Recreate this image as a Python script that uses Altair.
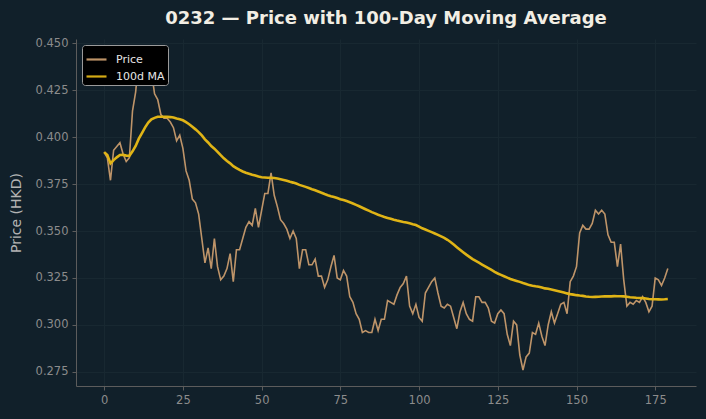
import altair as alt
import pandas as pd

# Daily closing prices for 0232 (HKD), day index 0..179
days = list(range(180))
price = [
    0.392, 0.389, 0.377, 0.393, 0.395, 0.397, 0.391, 0.387, 0.389, 0.414,
    0.424, 0.442, 0.438, 0.444, 0.444, 0.435, 0.423, 0.420, 0.412, 0.410,
    0.410, 0.408, 0.405, 0.398, 0.401, 0.394, 0.382, 0.377, 0.367, 0.365,
    0.359, 0.346, 0.333, 0.341, 0.330, 0.346, 0.331, 0.324, 0.326, 0.330,
    0.338, 0.323, 0.340, 0.340, 0.346, 0.352, 0.355, 0.353, 0.362, 0.352,
    0.361, 0.370, 0.370, 0.381, 0.369, 0.363, 0.356, 0.354, 0.351, 0.346,
    0.350, 0.346, 0.330, 0.340, 0.340, 0.332, 0.332, 0.335, 0.326, 0.326,
    0.320, 0.324, 0.331, 0.337, 0.325, 0.324, 0.329, 0.326, 0.315, 0.312,
    0.306, 0.303, 0.296, 0.297, 0.296, 0.296, 0.303, 0.297, 0.303, 0.303,
    0.313, 0.312, 0.311, 0.316, 0.320, 0.322, 0.326, 0.310, 0.306, 0.311,
    0.304, 0.302, 0.317, 0.320, 0.323, 0.325, 0.317, 0.310, 0.309, 0.311,
    0.310, 0.304, 0.298, 0.307, 0.312, 0.306, 0.303, 0.302, 0.315, 0.315,
    0.312, 0.312, 0.309, 0.302, 0.301, 0.306, 0.308, 0.306, 0.295, 0.289,
    0.302, 0.300, 0.284, 0.276, 0.283, 0.285, 0.296, 0.295, 0.301, 0.294,
    0.289, 0.300, 0.307, 0.301, 0.306, 0.311, 0.312, 0.306, 0.323, 0.326,
    0.331, 0.349, 0.353, 0.351, 0.351, 0.354, 0.361, 0.359, 0.361, 0.359,
    0.348, 0.344, 0.344, 0.331, 0.343, 0.324, 0.310, 0.312, 0.311, 0.313,
    0.312, 0.315, 0.312, 0.307, 0.310, 0.325, 0.324, 0.321, 0.325, 0.330,
]

series_names = ["Price", "100d MA"]
series_colors = ["#c89b6d", "#e0b416"]
x_ticks = [0, 25, 50, 75, 100, 125, 150, 175]
y_ticks = [0.275, 0.300, 0.325, 0.350, 0.375, 0.400, 0.425, 0.450]

df = pd.DataFrame({"day": days, "price": price})

x_scale = alt.Scale(domain=[-8.95, 187.95], nice=False, zero=False)
y_scale = alt.Scale(domain=[0.2675, 0.4522], nice=False, zero=False)
color_scale = alt.Scale(domain=series_names, range=series_colors)

x_enc = alt.X("day:Q", scale=x_scale, axis=alt.Axis(title=None, values=x_ticks, format="d"))

legend = alt.Legend(
    title=None,
    orient="none",
    legendX=6,
    legendY=6,
    symbolType="stroke",
    symbolSize=400,
    symbolStrokeWidth=2.2,
    labelColor="#e6e6e6",
    labelFontSize=11,
    labelFont="DejaVu Sans",
    labelOffset=8,
    fillColor="#000000",
    strokeColor="#9a9a9a",
    cornerRadius=3,
    padding=3,
    rowPadding=-5,
)

price_line = (
    alt.Chart(df)
    .transform_calculate(series="'Price'")
    .mark_line(strokeWidth=1.6, opacity=0.95)
    .encode(
        x=x_enc,
        y=alt.Y(
            "price:Q",
            scale=y_scale,
            axis=alt.Axis(title="Price (HKD)", values=y_ticks, format=".3f"),
        ),
        color=alt.Color("series:N", scale=color_scale, legend=legend),
    )
)

# 100-day rolling mean of the closing price
ma_line = (
    alt.Chart(df)
    .transform_window(ma="mean(price)", frame=[-99, 0], sort=[alt.SortField("day")])
    .transform_calculate(series="'100d MA'")
    .mark_line(strokeWidth=2.6)
    .encode(
        x=x_enc,
        y=alt.Y("ma:Q", scale=y_scale),
        color=alt.Color("series:N", scale=color_scale, legend=legend),
    )
)

chart = (
    alt.layer(price_line, ma_line)
    .properties(
        width=620,
        height=347,
        autosize=alt.AutoSizeParams(type="none"),
        padding={"left": 76, "top": 39, "right": 10, "bottom": 33},
        background="#11202a",
        title=alt.TitleParams(
            text="0232 — Price with 100-Day Moving Average",
            fontSize=18,
            fontWeight="bold",
            font="DejaVu Sans",
            color="#f2eee4",
            anchor="middle",
            offset=9,
        ),
    )
    .configure_view(strokeWidth=0)
    .configure_axis(
        domainColor="#5c5c5c",
        tickColor="#5c5c5c",
        tickSize=4,
        labelColor="#8c8c8c",
        labelFont="DejaVu Sans",
        labelFontSize=11.5,
        labelPadding=4,
        gridColor="#182831",
        gridWidth=1,
        titleFont="DejaVu Sans",
        titleColor="#b4b4b4",
        titleFontSize=14,
        titleFontWeight="normal",
        titlePadding=12,
    )
)

chart.save("out.html", embed_options={"renderer": "svg", "actions": False})
